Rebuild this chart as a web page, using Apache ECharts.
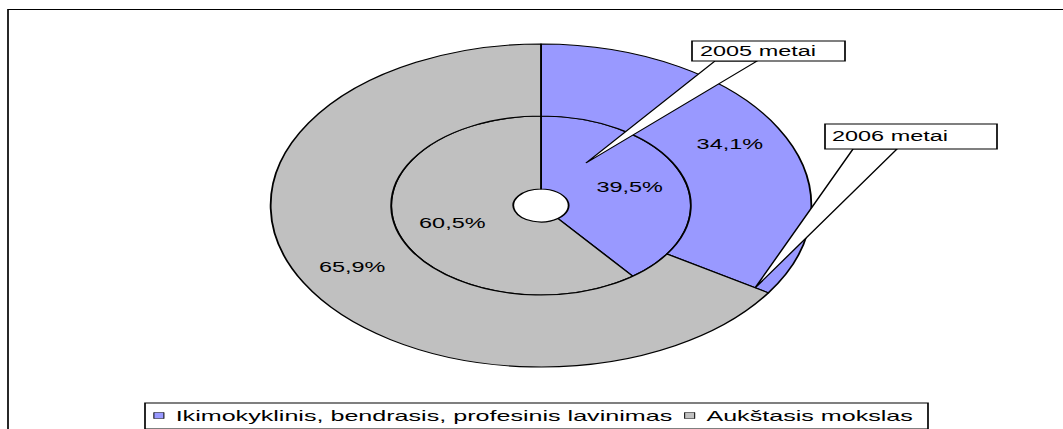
<!DOCTYPE html>
<html>
<head>
<meta charset="utf-8">
<script src="https://cdn.jsdelivr.net/npm/echarts@6/dist/echarts.min.js"></script>
<style>
  html, body { margin: 0; padding: 0; background: #fff; overflow: hidden; }
  #wrap { width: 1063px; height: 429px; position: relative; overflow: hidden; background: #fff; }
  #chart { position: absolute; left: 0; top: 0; width: 635px; height: 429px; transform: scaleX(1.674); transform-origin: 0 0; }
</style>
</head>
<body>
<div id="wrap"><div id="chart"></div></div>
<script>
// ---- data ----
const categories = ['Ikimokyklinis, bendrasis, profesinis lavinimas', 'Aukštasis mokslas'];
const values2005 = [39.5, 60.5];   // inner ring
const values2006 = [34.1, 65.9];   // outer ring
const ringNames = ['2005 metai', '2006 metai'];
const colors = ['#9999FF', '#C0C0C0'];

const FONT = 'Liberation Sans, Arial, sans-serif';
const S = 1.674; // horizontal stretch of the original picture

function fmt(v) { return v.toFixed(1).replace('.', ',') + '%'; }
function mk(vals) { return categories.map((c, i) => ({ name: c, value: vals[i] })); }

const center = [541 / S, 205.5];
const commonSeries = {
  type: 'pie',
  center: center,
  startAngle: 90,
  clockwise: true,
  avoidLabelOverlap: false,
  animation: false,
  silent: true,
  itemStyle: { borderColor: '#000', borderWidth: 1.1 },
  label: {
    show: true, position: 'inside', color: '#000',
    fontFamily: FONT, fontSize: 14,
    formatter: p => fmt(p.value)
  },
  labelLine: { show: false },
  emphasis: { disabled: true }
};

function callout(box, textX, textY, wedge, label) {
  return [
    { type: 'polygon', z: 100, shape: { points: wedge },
      style: { fill: '#fff', stroke: '#000', lineWidth: 1 } },
    { type: 'rect', z: 101, shape: box,
      style: { fill: '#fff', stroke: '#000', lineWidth: 1 } },
    { type: 'text', z: 102, x: textX, y: textY,
      style: { text: label, font: '14px ' + FONT, fill: '#000', verticalAlign: 'middle', align: 'left' } }
  ];
}

const chart = echarts.init(document.getElementById('chart'), null, { renderer: 'svg' });
chart.setOption({
  backgroundColor: 'transparent',
  color: colors,
  animation: false,
  legend: {
    left: 145 / S, top: 403,
    orient: 'horizontal',
    icon: 'rect',
    itemWidth: 6, itemHeight: 6, itemGap: 7,
    padding: [5, 9, 6, 5],
    borderColor: '#000', borderWidth: 1,
    backgroundColor: '#fff',
    selectedMode: false,
    itemStyle: { borderColor: '#000', borderWidth: 0.6 },
    textStyle: { fontFamily: FONT, fontSize: 15, color: '#000', padding: [0, 0, 0, 2] },
    data: categories
  },
  graphic: [
    { type: 'rect', z: 0, shape: { x: 8 / S, y: 9.5, width: 2000, height: 1000 },
      style: { fill: 'none', stroke: '#000', lineWidth: 1 } }
  ].concat(
    callout({ x: 692 / S, y: 41, width: 153 / S, height: 20 }, 700 / S, 51.5,
            [[715 / S, 61], [757 / S, 61], [586 / S, 163]], ringNames[0]),
    callout({ x: 825 / S, y: 124, width: 172 / S, height: 25 }, 832 / S, 136,
            [[853 / S, 149], [897 / S, 149], [755 / S, 288]], ringNames[1])
  ),
  series: [
    Object.assign({}, commonSeries, { name: ringNames[0], radius: [16.5, 89.5], data: mk(values2005) }),
    Object.assign({}, commonSeries, { name: ringNames[1], radius: [89.5, 161.5], data: mk(values2006) })
  ]
});
</script>
</body>
</html>
